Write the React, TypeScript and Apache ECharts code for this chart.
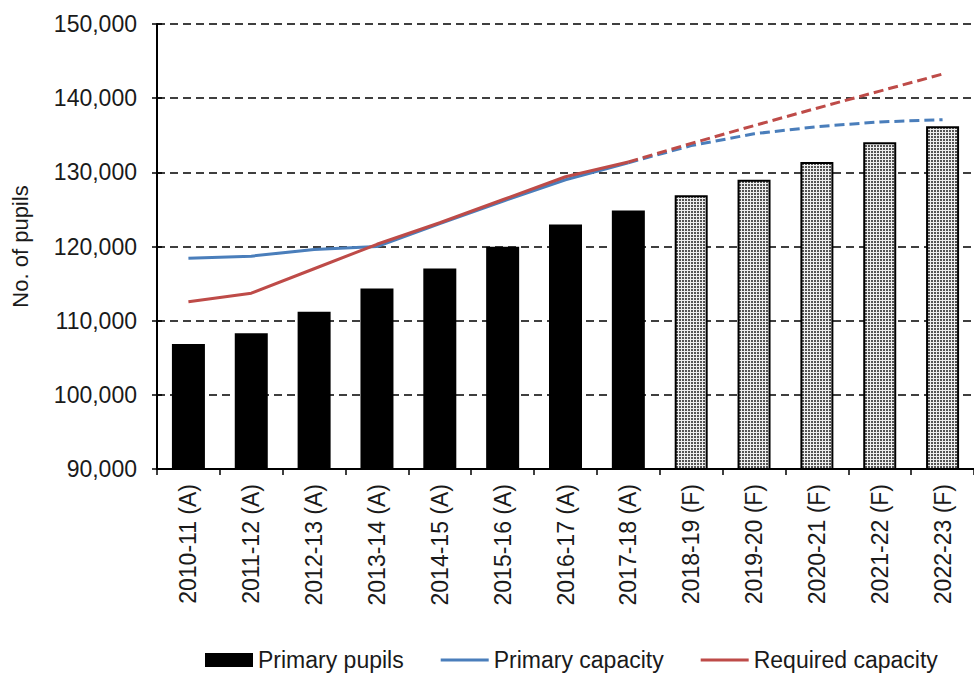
import React, { useEffect, useRef } from "react";
import * as echarts from "echarts";

// School years; (A) = actual, (F) = forecast
const categories = [
  "2010-11 (A)", "2011-12 (A)", "2012-13 (A)", "2013-14 (A)", "2014-15 (A)",
  "2015-16 (A)", "2016-17 (A)", "2017-18 (A)", "2018-19 (F)", "2019-20 (F)",
  "2020-21 (F)", "2021-22 (F)", "2022-23 (F)",
];

// Primary pupils: actual years, then forecast years
const actualPupils = [106850, 108300, 111200, 114350, 117050, 119950, 122950, 124850];
const forecastPupils = [126900, 129000, 131400, 134050, 136200];

const primaryCapacity = [
  118400, 118700, 119600, 120000, 123100, 126100, 129000, 131300,
  133600, 135200, 136150, 136800, 137100,
];
const requiredCapacity = [
  112550, 113700, 117000, 120300, 123200, 126300, 129400, 131400,
  133900, 136300, 138650, 140950, 143250,
];

const yTicks = [90000, 100000, 110000, 120000, 130000, 140000, 150000];

const FONT = "'Liberation Sans', Arial, sans-serif";
const TEXT = "#1a1a1a";
const BLUE = "#4a7ebb";
const RED = "#be4b48";

// small dotted tile used to fill the forecast bars
function makeStipple(): HTMLCanvasElement {
  const c = document.createElement("canvas");
  c.width = 3;
  c.height = 3;
  const ctx = c.getContext("2d")!;
  ctx.fillStyle = "#eeeeee";
  ctx.fillRect(0, 0, 3, 3);
  ctx.fillStyle = "#555555";
  ctx.fillRect(1, 1, 2, 2);
  return c;
}

export default function App() {
  const ref = useRef<HTMLDivElement>(null);

  useEffect(() => {
    if (!ref.current) return;
    const chart = echarts.init(ref.current, undefined, { renderer: "svg" });
    const stipple = makeStipple();
    const nActual = actualPupils.length;
    const pupils = [...actualPupils, ...forecastPupils];

    const barData = pupils.map((v, i) =>
      i < nActual
        ? v
        : {
            value: v,
            itemStyle: {
              color: { image: stipple, repeat: "repeat" },
              borderColor: "#000",
              borderWidth: 2,
            },
          }
    );
    // solid through the last actual year, dashed from there on
    const solidPart = (arr: number[]) => arr.map((v, i) => (i < nActual ? v : null));
    const dashedPart = (arr: number[]) => arr.map((v, i) => (i >= nActual - 1 ? v : null));

    // plain line swatch for the legend
    const lineIcon = "path://M0,0 H48 V3 H0 Z";

    chart.setOption({
      animation: false,
      grid: { left: 157, right: -9, top: 24, bottom: 204 },
      legend: {
        left: 200,
        top: 643,
        itemWidth: 48,
        itemHeight: 14,
        itemGap: 37,
        textStyle: { fontFamily: FONT, fontSize: 23, lineHeight: 24, color: TEXT },
        data: [
          { name: "Primary pupils", icon: "rect" },
          { name: "Primary capacity", icon: lineIcon },
          { name: "Required capacity", icon: lineIcon },
        ],
      },
      xAxis: {
        type: "category",
        data: categories,
        boundaryGap: true,
        axisLine: { lineStyle: { color: "#000", width: 2 } },
        axisTick: { show: true, length: 6, lineStyle: { color: "#000", width: 1.5 } },
        axisLabel: {
          rotate: 90,
          margin: 15,
          fontFamily: FONT,
          fontSize: 23,
          color: TEXT,
          interval: 0,
        },
      },
      yAxis: [
        {
          type: "value",
          min: yTicks[0],
          max: yTicks[yTicks.length - 1],
          interval: 10000,
          name: "No. of pupils",
          nameLocation: "middle",
          nameGap: 126,
          nameTextStyle: { fontFamily: FONT, fontSize: 22, color: TEXT },
          axisLine: { show: true, lineStyle: { color: "#000", width: 2 } },
          axisTick: { show: true, length: 5, lineStyle: { color: "#000", width: 1.5 } },
          axisLabel: {
            margin: 20,
            fontFamily: FONT,
            fontSize: 23,
            color: TEXT,
            formatter: (v: number) => v.toLocaleString("en-GB"),
          },
          splitLine: {
            show: true,
            lineStyle: { color: "#000", width: 1.5, type: [8, 5] },
          },
        },
        {
          // inner half of the crossing tick marks
          type: "value",
          position: "left",
          min: yTicks[0],
          max: yTicks[yTicks.length - 1],
          interval: 10000,
          axisLine: { show: false },
          axisTick: { show: true, inside: true, length: 5, lineStyle: { color: "#000", width: 1.5 } },
          axisLabel: { show: false },
          splitLine: { show: false },
        },
      ],
      series: [
        {
          name: "Primary pupils",
          type: "bar",
          barWidth: 33,
          itemStyle: { color: "#000" },
          data: barData,
          z: 2,
        },
        {
          name: "Primary capacity",
          type: "line",
          data: solidPart(primaryCapacity),
          showSymbol: false,
          symbol: "none",
          lineStyle: { color: BLUE, width: 3 },
          itemStyle: { color: BLUE },
          z: 3,
        },
        {
          name: "Primary capacity (forecast)",
          type: "line",
          data: dashedPart(primaryCapacity),
          showSymbol: false,
          symbol: "none",
          lineStyle: { color: BLUE, width: 3, type: [10, 5] },
          itemStyle: { color: BLUE },
          z: 3,
        },
        {
          name: "Required capacity",
          type: "line",
          data: solidPart(requiredCapacity),
          showSymbol: false,
          symbol: "none",
          lineStyle: { color: RED, width: 3 },
          itemStyle: { color: RED },
          z: 4,
        },
        {
          name: "Required capacity (forecast)",
          type: "line",
          data: dashedPart(requiredCapacity),
          showSymbol: false,
          symbol: "none",
          lineStyle: { color: RED, width: 3, type: [10, 5] },
          itemStyle: { color: RED },
          z: 4,
        },
      ],
    });

    return () => chart.dispose();
  }, []);

  return (
    <div
      style={{
        position: "fixed",
        left: 0,
        top: 0,
        width: 974,
        height: 673,
        overflow: "hidden",
        background: "#fff",
      }}
    >
      <div ref={ref} style={{ width: 974, height: 673 }} />
    </div>
  );
}
